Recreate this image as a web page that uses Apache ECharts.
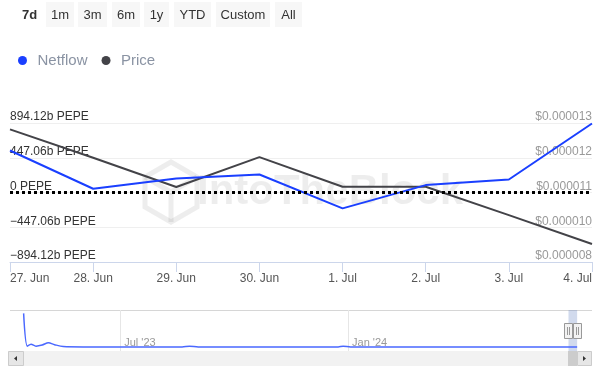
<!DOCTYPE html>
<html>
<head>
<meta charset="utf-8">
<script src="https://cdn.jsdelivr.net/npm/echarts@6/dist/echarts.min.js"></script>
<style>
html,body{margin:0;padding:0;background:#fff;}
#chart{width:605px;height:376px;}
</style>
</head>
<body>
<div id="chart"></div>
<script>
// 7日数据
var dates = ['27. Jun','28. Jun','29. Jun','30. Jun','1. Jul','2. Jul','3. Jul','4. Jul'];
var netflow = [540, 48, 180, 232, -204, 95, 167, 888]; // 单位 b PEPE
var price = [0.00001298, 0.00001200, 0.00001099, 0.00001202, 0.00001100, 0.00001100, 0.00001002, 0.00000902];
var netflowTicks = [-894.12, -447.06, 0, 447.06, 894.12];
var priceTicks = [0.0000084, 0.0000096, 0.0000108, 0.0000120, 0.0000132];

// 导航条（全部历史）
var navDates = ['2023-04-14','2023-04-17','2023-04-20','2023-04-24','2023-04-29','2023-05-04','2023-05-09','2023-05-16','2023-06-01','2023-06-20','2023-07-15','2023-08-20','2023-08-26','2023-09-02','2023-10-01','2023-11-01','2023-12-01','2023-12-24','2023-12-28','2024-01-03','2024-02-01','2024-03-01','2024-04-01','2024-05-01','2024-06-01','2024-07-04'];
var navValues = [101, 13, 18, 13, 16, 22, 17, 12, 11, 11, 11, 11, 13, 11, 11, 11, 11, 11, 13, 11, 11, 11, 11, 11, 11, 11];
var navRange = ['2024-06-27', '2024-07-04'];
var navTicks = ['2023-07-01', '2024-01-01'];
var navTickLabels = ["Jul '23", "Jan '24"];
var buttons = ['7d','1m','3m','6m','1y','YTD','Custom','All'];

var FONT = 'Liberation Sans, Arial, sans-serif';
var ts = function (d) { return Date.UTC(+d.slice(0,4), +d.slice(5,7) - 1, +d.slice(8,10)); };
var myChart = echarts.init(document.getElementById('chart'));

//顶部按钮
var btnBox = [[18,41],[46,74],[78,107],[112,140],[144,169],[174,211],[216,270],[275,302]];
var graphics = [];
for (var i = 0; i < buttons.length; i++) {
	var b = btnBox[i];
	if (i > 0) {
		graphics.push({type:'rect', shape:{x:b[0], y:2, width:b[1]-b[0], height:25}, style:{fill:'#f7f7f7'}, silent:true});
	}
	graphics.push({type:'text', x:(b[0]+b[1])/2, y:15, style:{text:buttons[i], fill:'#333', font:(i==0?'bold ':'')+'13px '+FONT, textAlign:'center', textVerticalAlign:'middle'}, silent:true});
}
//水印
var wm = 'rgba(0,0,0,0.07)';
graphics.push({type:'polygon', shape:{points:[[171,162],[197,177],[197,207],[171,222],[145,207],[145,177]]}, style:{fill:'none', stroke:wm, lineWidth:5}, silent:true, z:0});
graphics.push({type:'polyline', shape:{points:[[145,177],[171,192],[197,177]]}, style:{fill:'none', stroke:wm, lineWidth:5}, silent:true, z:0});
graphics.push({type:'line', shape:{x1:171,y1:192,x2:171,y2:222}, style:{stroke:wm, lineWidth:5}, silent:true, z:0});
graphics.push({type:'text', x:330, y:192, style:{text:'IntoTheBlock', fill:wm, font:'bold 42px '+FONT, textAlign:'center', textVerticalAlign:'middle'}, silent:true, z:0});
//导航条边框、滚动条
graphics.push({type:'line', shape:{x1:10,y1:310.5,x2:592,y2:310.5}, style:{stroke:'#d6d6d6', lineWidth:1}, silent:true});
graphics.push({type:'rect', shape:{x:8,y:351,width:584,height:15}, style:{fill:'#f2f2f2'}, silent:true});
graphics.push({type:'rect', shape:{x:8.5,y:351.5,width:15,height:14}, style:{fill:'#e6e6e6', stroke:'#cccccc'}, silent:true});
graphics.push({type:'polygon', shape:{points:[[14,358.5],[17,356],[17,361]]}, style:{fill:'#333'}, silent:true});
graphics.push({type:'rect', shape:{x:568,y:351,width:9,height:15}, style:{fill:'#cccccc'}, silent:true});
graphics.push({type:'rect', shape:{x:577.5,y:351.5,width:14,height:14}, style:{fill:'#e6e6e6', stroke:'#cccccc'}, silent:true});
graphics.push({type:'polygon', shape:{points:[[586,358.5],[583,356],[583,361]]}, style:{fill:'#333'}, silent:true});
var handles = [564.5, 573.5];
for (var h = 0; h < handles.length; h++) {
	var hx = handles[h];
	graphics.push({type:'rect', shape:{x:hx,y:323.5,width:8,height:15}, style:{fill:'#f2f2f2', stroke:'#999'}, silent:true, z:10});
	graphics.push({type:'line', shape:{x1:hx+3,y1:327,x2:hx+3,y2:335}, style:{stroke:'#999'}, silent:true, z:10});
	graphics.push({type:'line', shape:{x1:hx+5,y1:327,x2:hx+5,y2:335}, style:{stroke:'#999'}, silent:true, z:10});
}

var navTickTs = navTicks.map(ts);
var option = {
	animation: false,
	backgroundColor: '#fff',
	textStyle: {fontFamily: FONT},
	legend: {
		left: 13, top: 48,
		icon: 'circle', itemWidth: 20, itemHeight: 9, itemGap: 14,
		textStyle: {color: '#8a93a3', fontSize: 15, fontFamily: FONT},
		data: ['Netflow', 'Price']
	},
	graphic: graphics,
	grid: [
		{left: 10, right: 13, top: 123, bottom: 114, containLabel: false},
		{left: 10, right: 13, top: 310, height: 41, containLabel: false}
	],
	xAxis: [
		{
			type: 'category', gridIndex: 0, data: dates, boundaryGap: false,
			axisLine: {show: true, onZero: false, lineStyle: {color: '#ccd6eb', width: 1}},
			axisTick: {show: true, interval: 0, length: 10, inside: false, lineStyle: {color: '#ccd6eb', width: 1}},
			axisLabel: {color: '#555', fontSize: 12, margin: 11, alignMinLabel: 'left', alignMaxLabel: 'right', interval: 0},
			splitLine: {show: false}
		},
		{
			type: 'value', gridIndex: 1, min: ts('2023-04-03'), max: ts('2024-07-16'),
			axisLine: {show: false, onZero: false},
			axisTick: {show: false, customValues: navTickTs},
			axisLabel: {
				inside: true, margin: 3, align: 'left', padding: [0,0,0,4], color: '#999', fontSize: 11,
				customValues: navTickTs,
				formatter: function (value) {
					var k = navTickTs.indexOf(value);
					return k >= 0 ? navTickLabels[k] : '';
				}
			},
			splitLine: {show: true, lineStyle: {color: '#e6e6e6'}}
		}
	],
	yAxis: [
		{
			type: 'value', gridIndex: 0, position: 'left',
			min: netflowTicks[0], max: netflowTicks[4], interval: 447.06,
			axisLine: {show: false}, axisTick: {show: false},
			axisLabel: {
				inside: true, margin: 0, verticalAlign: 'bottom', color: '#333', fontSize: 12,
				formatter: function (v) {
					if (Math.abs(v) < 1e-6) return '0 PEPE';
					return (v < 0 ? '\u2212' : '') + Math.abs(v).toFixed(2) + 'b PEPE';
				}
			},
			splitLine: {lineStyle: {color: '#efefef'}}
		},
		{
			type: 'value', gridIndex: 0, position: 'right',
			min: priceTicks[0], max: priceTicks[4], interval: 0.0000012,
			axisLine: {show: false}, axisTick: {show: false},
			axisLabel: {
				inside: true, margin: 0, verticalAlign: 'bottom', color: '#999', fontSize: 12,
				formatter: function (v) { return '$' + v.toFixed(6); }
			},
			splitLine: {show: false}
		},
		{type: 'value', gridIndex: 1, min: 0, max: 110, show: false}
	],
	series: [
		{
			name: 'Netflow', type: 'line', xAxisIndex: 0, yAxisIndex: 0, data: netflow,
			showSymbol: false, symbol: 'circle', color: '#1a3fff',
			lineStyle: {width: 2, color: '#1a3fff'}, z: 3,
			markLine: {
				silent: true, symbol: 'none', label: {show: false},
				lineStyle: {color: '#000', width: 3, type: [3, 3]},
				data: [{yAxis: 0}]
			}
		},
		{
			name: 'Price', type: 'line', xAxisIndex: 0, yAxisIndex: 1, data: price,
			showSymbol: false, symbol: 'circle', color: '#434348',
			lineStyle: {width: 2, color: '#434348'}, z: 2
		},
		{
			name: 'nav', type: 'line', xAxisIndex: 1, yAxisIndex: 2,
			data: navDates.map(function (d, i) { return [ts(d), navValues[i]]; }),
			showSymbol: false, smooth: 0.3, lineStyle: {width: 1.5, color: '#4a68ff'},
			markArea: {
				silent: true, itemStyle: {color: 'rgba(102,133,194,0.3)'},
				data: [[{xAxis: ts(navRange[0])}, {xAxis: ts(navRange[1])}]]
			}
		}
	]
};
myChart.setOption(option);
</script>
</body>
</html>
